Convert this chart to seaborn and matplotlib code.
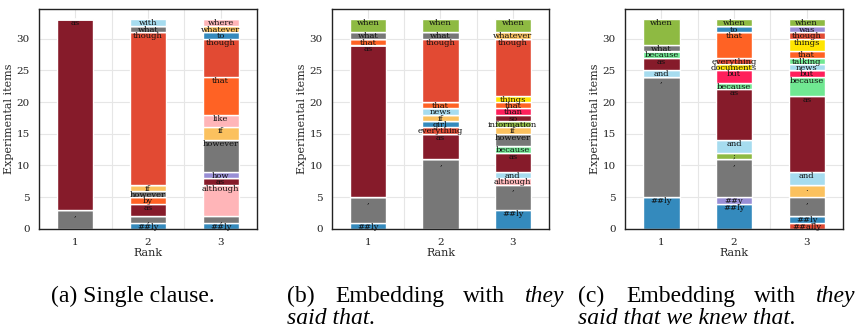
import pandas as pd
import matplotlib.pyplot as plt
import seaborn as sns

ranks = [1, 2, 3]

# (a) single clause: predicted words per rank and their item counts
words_a = [[",", "as"],
           ["##ly", ",", "as", "by", "however", "if", "though", "what", "with"],
           ["##ly", ",", "although", "as", "how", "however", "if", "like", "that",
            "though", "to", "whatever", "where"]]
counts_a = [[3, 30],
            [1, 1, 2, 1, 1, 1, 24, 1, 1],
            [1, 1, 5, 1, 1, 5, 2, 2, 6, 6, 1, 1, 1]]

# (b) embedding with "they said that"
words_b = [["##ly", ",", "as", "that", "what", "when"],
           [",", "as", "everything", "girl", "if", "news", "that", "though", "what", "when"],
           ["##ly", ",", "although", "and", "as", "because", "however", "if", "information",
            "so", "than", "that", "things", "though", "whatever", "when"]]
counts_b = [[1, 4, 24, 1, 1, 2],
            [11, 4, 1, 1, 1, 1, 1, 10, 1, 2],
            [3, 4, 1, 1, 3, 1, 2, 1, 1, 1, 1, 1, 1, 9, 1, 2]]

# (c) embedding with "they said that we knew that"
words_c = [["##ly", ",", "and", "as", "because", "what", "when"],
           ["##ly", "##y", ",", ";", "and", "as", "because", "but", "documents",
            "everything", "that", "to", "when"],
           ["##ally", "##ly", ",", ".", "and", "as", "because", "but", "news", "talking",
            "that", "things", "though", "was", "when"]]
counts_c = [[5, 19, 1, 2, 1, 1, 4],
            [4, 1, 6, 1, 2, 8, 1, 2, 1, 1, 4, 1, 1],
            [1, 1, 3, 2, 2, 12, 3, 1, 1, 1, 1, 2, 1, 1, 1]]

captions = ["(a) Single clause.", "(b) Embedding with they said that.",
            "(c) Embedding with they said that we knew that."]

word_colors = {
    ",": "#777777", "what": "#777777", "however": "#777777",
    "as": "#861b2a", "so": "#861b2a",
    "though": "#e24a33", "everything": "#e24a33", "##ally": "#e24a33",
    "##ly": "#348abd", "to": "#348abd", "girl": "#348abd",
    "if": "#fbc15e", "whatever": "#fbc15e", ".": "#fbc15e",
    "when": "#8eba42", "information": "#8eba42", ";": "#8eba42",
    "where": "#ffb5b8", "like": "#ffb5b8", "although": "#ffb5b8",
    "how": "#988ed5", "##y": "#988ed5", "was": "#988ed5",
    "that": "#ff6224", "by": "#ff6224",
    "with": "#a6dcef", "and": "#a6dcef", "news": "#a6dcef",
    "because": "#70e892", "talking": "#70e892",
    "things": "#ffe500", "documents": "#ffe500",
    "but": "#ff1f5b", "than": "#ff1f5b",
}

sns.set_theme(style="whitegrid")
plt.rcParams["font.family"] = "DejaVu Serif"
plt.rcParams.update({
    "axes.edgecolor": "#222222", "axes.linewidth": 1.0,
    "grid.color": "#e6e6e6", "grid.linewidth": 0.8,
    "xtick.major.size": 3, "ytick.major.size": 3,
    "xtick.major.width": 0.8, "ytick.major.width": 0.8,
    "xtick.color": "#222222", "ytick.color": "#222222",
    "xtick.labelsize": 7.5, "ytick.labelsize": 7.5, "axes.labelsize": 8,
})

fig = plt.figure(figsize=(8.57, 3.34), dpi=100)
positions = [[0.0455, 0.3144, 0.2544, 0.6587],
             [0.3874, 0.3144, 0.2532, 0.6587],
             [0.7293, 0.3144, 0.2544, 0.6587]]

for pos, words, counts in zip(positions, [words_a, words_b, words_c],
                              [counts_a, counts_b, counts_c]):
    ax = fig.add_axes(pos)
    rows = []
    for rank, ws, cs in zip(ranks, words, counts):
        for w, c in zip(ws, cs):
            rows.append({"rank": rank, "word": w, "count": c})
    df = pd.DataFrame(rows)
    order = sorted(df["word"].unique())
    sns.histplot(data=df, x="rank", hue="word", weights="count", multiple="stack",
                 discrete=True, shrink=0.5, hue_order=order[::-1], palette=word_colors,
                 edgecolor="white", linewidth=1, alpha=1, legend=False, ax=ax)

    # label each segment at its top
    for rank, ws, cs in zip(ranks, words, counts):
        top = 0
        for w, c in zip(ws, cs):
            top += c
            ax.text(rank, top, w, ha="center", va="top", fontsize=6, color="#111111")

    ax.set_xlim(0.5, 3.5)
    ax.set_ylim(0, 34.65)
    ax.set_xticks(ranks)
    ax.set_xticks([1.5, 2.5], minor=True)
    ax.set_yticks(range(0, 31, 5))
    ax.grid(True, which="minor", axis="x")
    ax.tick_params(which="minor", length=0)
    ax.set_axisbelow(True)
    ax.set_xlabel("Rank", labelpad=1)
    ax.set_ylabel("Experimental items", labelpad=2)
    for s in ax.spines.values():
        s.set_visible(True)

# captions below the panels
cap = dict(family="Liberation Serif", fontsize=17, va="baseline", color="black")
y1, y2 = 1 - 302 / 334, 1 - 324 / 334
fig.text(51 / 857, y1, captions[0], **cap)
for x0, tag, line2 in [(287, "(b)", "said that."), (578, "(c)", "said that we knew that.")]:
    fig.text(x0 / 857, y1, tag, **cap)
    fig.text((x0 + 48) / 857, y1, "Embedding", **cap)
    fig.text((x0 + 176) / 857, y1, "with", **cap)
    fig.text((x0 + 277) / 857, y1, "they", ha="right", style="italic", **cap)
    fig.text(x0 / 857, y2, line2, style="italic", **cap)

fig.savefig("out.png", dpi=100)
